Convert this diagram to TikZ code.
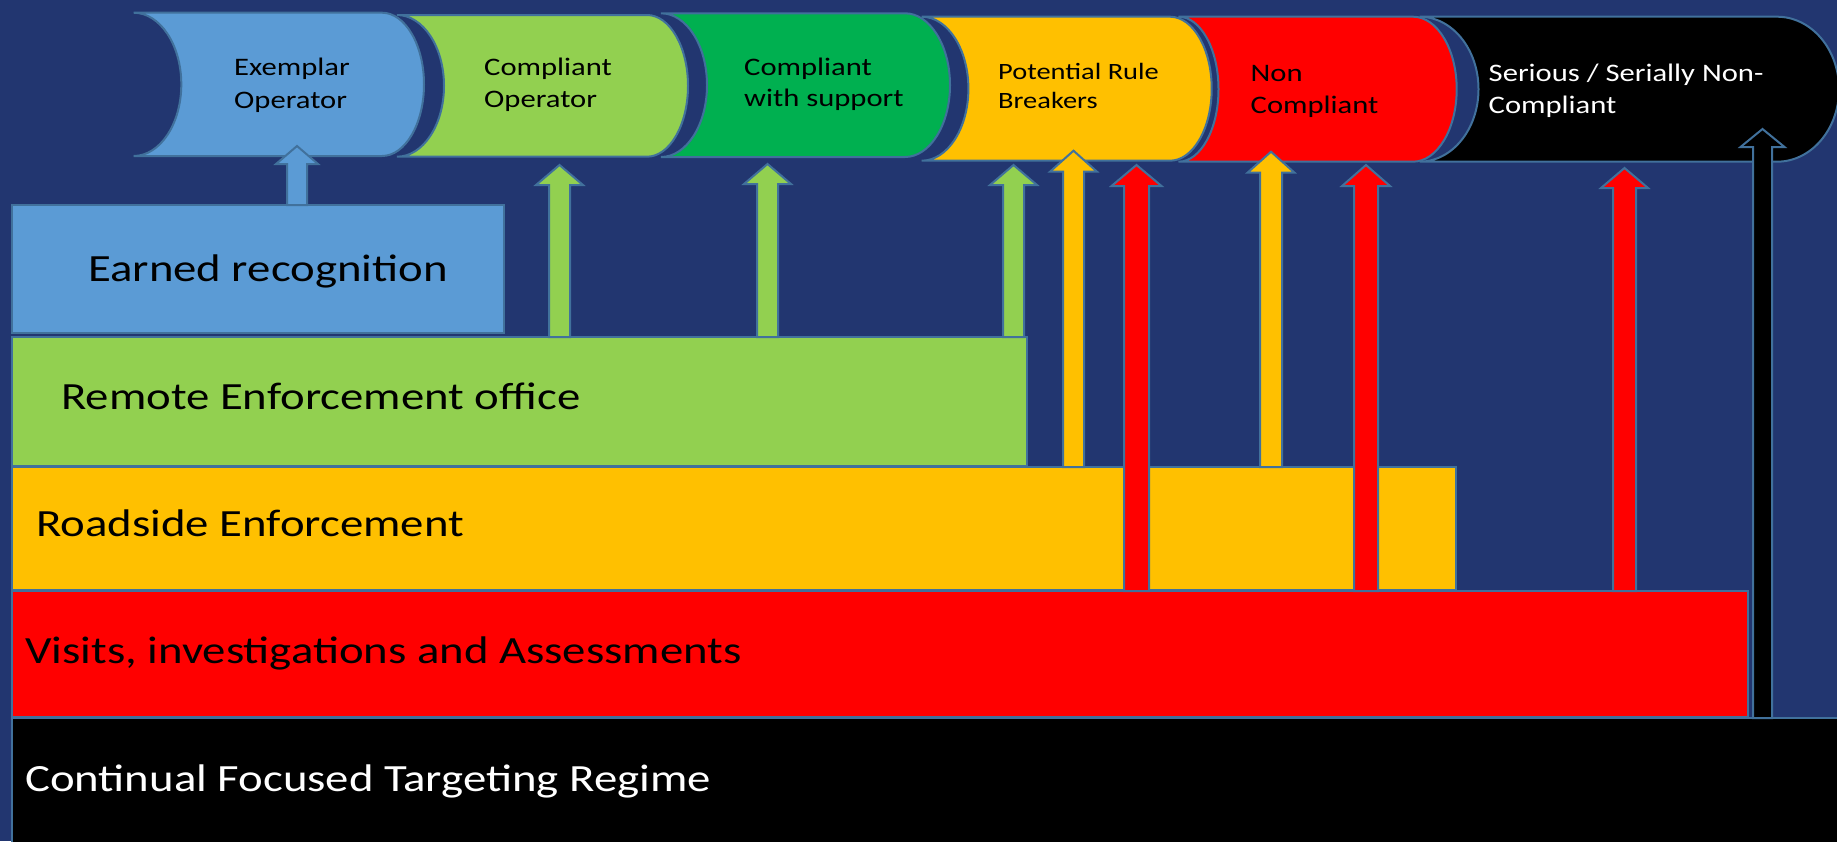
\documentclass[tikz,border=0pt]{standalone}
\usepackage{fontspec}
\setmainfont{Carlito}[FakeStretch=1.215]
\usetikzlibrary{calc}
\definecolor{bg}{RGB}{34,54,112}
\definecolor{edge}{HTML}{41719C}
\definecolor{cblue}{HTML}{5B9BD5}
\definecolor{clgreen}{HTML}{92D050}
\definecolor{cgreen}{HTML}{00B050}
\definecolor{cyellow}{HTML}{FFC000}
\definecolor{cred}{HTML}{FF0000}
% stored-data style shape: #1 fill, #2 L, #3 R, #4 T, #5 B, #6 left radius, #7 right radius
\newcommand{\opshape}[7]{%
  \pgfmathsetmacro{\sM}{(#4+#5)/2}%
  \pgfmathsetmacro{\sry}{(#5-#4)/2}%
  \pgfmathsetmacro{\sxa}{#3-#7}%
  \pgfmathsetmacro{\sxb}{#3-#7+0.5523*#7}%
  \pgfmathsetmacro{\syt}{\sM-0.5523*\sry}%
  \pgfmathsetmacro{\syb}{\sM+0.5523*\sry}%
  \pgfmathsetmacro{\sxc}{#2+#6}%
  \pgfmathsetmacro{\sxd}{#2+0.5523*#6}%
  \draw[opline, fill=#1] (#2,#4) -- (\sxa,#4)
    .. controls (\sxb,#4) and (#3,\syt) .. (#3,\sM)
    .. controls (#3,\syb) and (\sxb,#5) .. (\sxa,#5) -- (#2,#5)
    .. controls (\sxd,#5) and (\sxc,\syb) .. (\sxc,\sM)
    .. controls (\sxc,\syt) and (\sxd,#4) .. cycle;%
}
% block up-arrow: #1 fill, #2 tip coordinate, #3 source band node, #4 shaft half width, #5 head half width, #6 head height
\newcommand{\blockup}[6]{%
  \draw[opline, fill=#1] let \p1=(#2), \p2=(#2 |- #3.north) in
    (\x1-#4pt,\y2) -- (\x1-#4pt,\y1-#6pt) -- (\x1-#5pt,\y1-#6pt) -- (\x1,\y1)
    -- (\x1+#5pt,\y1-#6pt) -- (\x1+#4pt,\y1-#6pt) -- (\x1+#4pt,\y2) -- cycle;%
}
\tikzset{
  opline/.style={draw=edge, line width=2pt, line join=miter},
  band/.style={draw=edge, line width=2pt, rectangle, inner sep=0pt, outer sep=0pt, anchor=north west},
  bigtxt/.style={font=\fontsize{38.5}{45}\selectfont, inner sep=0pt, anchor=base west},
  smalltxt/.style={font=\fontsize{25.2}{31}\selectfont, inner sep=0pt, anchor=base west}
}
\begin{document}
\begin{tikzpicture}[x=1pt,y=-1pt]
\useasboundingbox (0,0) rectangle (1837,841);
\clip (0,0) rectangle (1837,841);
\fill[bg] (0,0) rectangle (1837,841);

% bands
\node[band, fill=black, minimum width=1830pt, minimum height=130pt] (cont) at (11.5,718) {};
\node[band, fill=cred, minimum width=1736.5pt, minimum height=126pt] (vis) at (11.5,591) {};
\node[band, fill=cyellow, minimum width=1444.5pt, minimum height=123pt] (road) at (11.5,467) {};
\node[band, fill=clgreen, minimum width=1015.5pt, minimum height=129pt] (rem) at (11.5,337) {};
\node[band, fill=cblue, minimum width=492.5pt, minimum height=128pt] (er) at (11.5,205) {};

\node[bigtxt] (ert) at (88,281.7) {Earned recognition};
\node[bigtxt] (remt) at (61,409) {Remote Enforcement office};
\node[bigtxt] (roadt) at (36,536.7) {Roadside Enforcement};
\node[bigtxt] (vist) at (25,663) {Visits, investigations and Assessments};
\node[bigtxt, text=white] (contt) at (25,791.7) {Continual Focused Targeting Regime};

% top category shapes
\opshape{cblue}{133.6}{424}{12.7}{156}{47.7}{42}
\opshape{clgreen}{397}{688}{15}{156.7}{47}{41}
\opshape{cgreen}{661}{950}{13.3}{157}{46}{45}
\opshape{cyellow}{921.7}{1211.7}{16.7}{160.7}{46.7}{41.7}
\opshape{cred}{1178.5}{1456.7}{16.7}{161.7}{40}{43.7}
\opshape{black}{1419.5}{1839}{16.7}{161.7}{59}{62}

\node[smalltxt] (s1a) at (234,75.7) {Exemplar};
\node[smalltxt] (s1b) at (234,108.3) {Operator};
\node[smalltxt] (s2a) at (484,75.5) {Compliant};
\node[smalltxt] (s2b) at (484,107.5) {Operator};
\node[smalltxt] (s3a) at (744,75) {Compliant};
\node[smalltxt] (s3b) at (744,106.7) {with support};
\node[smalltxt, font=\fontsize{23.4}{29}\selectfont] (s4a) at (998,79) {Potential Rule};
\node[smalltxt, font=\fontsize{23.4}{29}\selectfont] (s4b) at (998,108.3) {Breakers};
\node[smalltxt] (s5a) at (1250.5,81.7) {Non};
\node[smalltxt] (s5b) at (1250.5,113.3) {Compliant};
\node[smalltxt, text=white] (s6a) at (1488.5,81) {Serious / Serially Non-};
\node[smalltxt, text=white] (s6b) at (1488.5,113.3) {Compliant};

% arrow tips
\coordinate (t1) at (297,146);
\coordinate (t2) at (559.5,165);
\coordinate (t3) at (767.5,164);
\coordinate (t4) at (1013.5,165);
\coordinate (t5) at (1073.5,150.7);
\coordinate (t6) at (1136.5,165);
\coordinate (t7) at (1271,151.7);
\coordinate (t8) at (1366,165);
\coordinate (t9) at (1624.5,168);
\coordinate (t10) at (1762.5,129);

\blockup{cblue}{t1}{er}{10}{21}{18}
\blockup{clgreen}{t2}{rem}{10.5}{23.5}{20}
\blockup{clgreen}{t3}{rem}{10.5}{23.5}{20}
\blockup{clgreen}{t4}{rem}{10.5}{23.5}{20}
\blockup{cyellow}{t5}{road}{10.5}{23.5}{21}
\blockup{cred}{t6}{vis}{12.5}{25}{21}
\blockup{cyellow}{t7}{road}{11}{23.5}{21}
\blockup{cred}{t8}{vis}{12}{24}{21}
\blockup{cred}{t9}{vis}{11.5}{23.5}{20}
\blockup{black}{t10}{cont}{9.5}{22}{18}
\end{tikzpicture}
\end{document}
